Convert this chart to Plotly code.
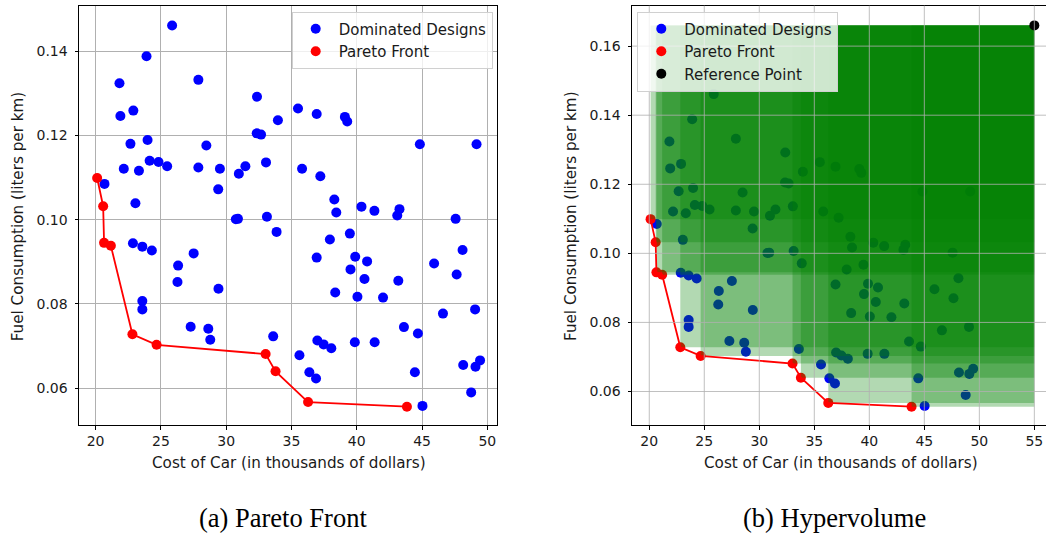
import plotly.graph_objects as go

# ---------------- data ----------------
dominated_cost = [
    25.86, 23.90, 21.83, 27.87, 32.36, 21.90, 22.89, 33.96, 32.34, 32.67,
    22.67, 23.98, 28.48, 22.16, 23.32, 24.14, 24.82, 25.48, 27.87, 29.52,
    30.97, 31.47, 33.05, 29.39, 20.68, 23.05, 30.74, 30.90, 33.12, 33.86,
    35.50, 36.93, 39.09, 39.27, 44.83, 49.17, 35.81, 37.21, 38.28, 38.43,
    40.36, 41.35, 43.27, 43.10, 47.57,
    39.47, 37.94, 36.93, 39.88, 40.79, 39.52, 40.59, 38.35, 40.05, 42.01,
    43.18, 45.92, 48.10, 47.65, 46.60, 49.06, 43.61, 44.68, 36.98, 37.46,
    38.05, 39.85, 41.37, 35.61, 36.37, 36.88, 44.45, 48.15, 49.09, 49.44,
    48.76, 45.03,
    22.86, 23.58, 24.31, 27.51, 26.32, 26.27, 29.41, 23.58, 23.58, 27.28,
    28.63, 28.78, 33.60,
]
dominated_fuel = [
    0.1461, 0.1388, 0.1324, 0.1332, 0.1292, 0.1246, 0.1259, 0.1236, 0.1205, 0.1202,
    0.1180, 0.1189, 0.1176, 0.1121, 0.1116, 0.1140, 0.1137, 0.1127, 0.1124, 0.1121,
    0.1109, 0.1127, 0.1136, 0.1072, 0.1085, 0.1039, 0.1001, 0.1002, 0.1007, 0.0971,
    0.1264, 0.1251, 0.1244, 0.1233, 0.1179, 0.1179, 0.1121, 0.1103, 0.1048, 0.1017,
    0.1031, 0.1021, 0.1025, 0.1010, 0.1002,
    0.0967, 0.0953, 0.0910, 0.0912, 0.0901, 0.0882, 0.0859, 0.0827, 0.0817, 0.0815,
    0.0855, 0.0896, 0.0928, 0.0870, 0.0777, 0.0787, 0.0745, 0.0730, 0.0713, 0.0704,
    0.0695, 0.0709, 0.0709, 0.0678, 0.0638, 0.0623, 0.0638, 0.0655, 0.0651, 0.0666,
    0.0590, 0.0558,
    0.0944, 0.0936, 0.0927, 0.0920, 0.0891, 0.0852, 0.0836, 0.0807, 0.0787, 0.0746,
    0.0741, 0.0715, 0.0723,
]
pareto_cost = [20.12, 20.58, 20.65, 21.17, 22.82, 24.67, 33.02, 33.78, 36.27, 43.84]
pareto_fuel = [0.1099, 0.1032, 0.0945, 0.0938, 0.0728, 0.0703, 0.0681, 0.0640, 0.0567, 0.0556]
reference_point = (55.0, 0.166)

x_ticks_a = [20, 25, 30, 35, 40, 45, 50]
x_ticks_b = [20, 25, 30, 35, 40, 45, 50, 55]
y_ticks_a = [0.06, 0.08, 0.10, 0.12, 0.14]
y_ticks_b = [0.06, 0.08, 0.10, 0.12, 0.14, 0.16]

x_title = "Cost of Car (in thousands of dollars)"
y_title = "Fuel Consumption (liters per km)"
captions = ["(a) Pareto Front", "(b) Hypervolume"]

# ---------------- layout helpers ----------------
W, H = 1046, 534
def fx(p):
    return p / W
def fy(p):
    return 1 - p / H

FONT = "DejaVu Sans"
GRID = "#b0b0b0"
TXT = "#1a1a1a"

fig = go.Figure()

# ---- (a) Pareto front ----
fig.add_trace(go.Scatter(x=dominated_cost, y=dominated_fuel, mode="markers",
                         marker=dict(color="blue", size=10), name="Dominated Designs",
                         xaxis="x", yaxis="y", legend="legend", legendgroup="a1"))
fig.add_trace(go.Scatter(x=pareto_cost, y=pareto_fuel, mode="lines",
                         line=dict(color="red", width=1.8), showlegend=False,
                         xaxis="x", yaxis="y", hoverinfo="skip"))
fig.add_trace(go.Scatter(x=pareto_cost, y=pareto_fuel, mode="markers",
                         marker=dict(color="red", size=10), name="Pareto Front",
                         xaxis="x", yaxis="y", legend="legend", legendgroup="a2"))

# ---- (b) Hypervolume ----
fig.add_trace(go.Scatter(x=dominated_cost, y=dominated_fuel, mode="markers",
                         marker=dict(color="blue", size=10), name="Dominated Designs",
                         xaxis="x2", yaxis="y2", legend="legend2", legendgroup="b1"))
fig.add_trace(go.Scatter(x=pareto_cost, y=pareto_fuel, mode="markers",
                         marker=dict(color="red", size=10), name="Pareto Front",
                         xaxis="x2", yaxis="y2", legend="legend2", legendgroup="b2"))
rx, ry = reference_point
for c, f in zip(pareto_cost, pareto_fuel):
    fig.add_trace(go.Scatter(x=[c, rx, rx, c, c], y=[f, f, ry, ry, f], mode="lines",
                             fill="toself", fillcolor="rgba(0,128,0,0.3)",
                             line=dict(width=0, color="rgba(0,0,0,0)"),
                             showlegend=False, hoverinfo="skip", xaxis="x2", yaxis="y2"))
fig.add_trace(go.Scatter(x=pareto_cost, y=pareto_fuel, mode="lines",
                         line=dict(color="red", width=1.8), showlegend=False,
                         xaxis="x2", yaxis="y2", hoverinfo="skip"))
fig.add_trace(go.Scatter(x=[rx], y=[ry], mode="markers",
                         marker=dict(color="black", size=10), name="Reference Point",
                         xaxis="x2", yaxis="y2", legend="legend2", legendgroup="b3"))

axis_common = dict(showline=True, linecolor="black", linewidth=1, ticks="outside",
                   ticklen=3.5, tickcolor="black", tickwidth=1,
                   tickfont=dict(family=FONT, size=14, color=TXT), zeroline=False)

ydom = [fy(425), fy(5.7)]
legend_common = dict(xanchor="left", yanchor="top",
                     bgcolor="rgba(255,255,255,0.8)", bordercolor="#d0d0d0", borderwidth=1,
                     font=dict(family=FONT, size=15, color=TXT), tracegroupgap=0,
                     itemwidth=36)
fig.update_layout(
    width=W, height=H, margin=dict(l=0, r=0, t=0, b=0),
    paper_bgcolor="white", plot_bgcolor="white",
    font=dict(family=FONT, size=14, color=TXT),
    xaxis=dict(domain=[fx(79), fx(497.3)], range=[18.73, 50.76], tickvals=x_ticks_a,
               showgrid=True, gridcolor=GRID, gridwidth=0.8, mirror=True, anchor="y",
               **axis_common),
    yaxis=dict(domain=ydom, range=[0.05126, 0.1508], tickvals=y_ticks_a, tickformat=".2f",
               showgrid=True, gridcolor=GRID, gridwidth=0.8, mirror=True, anchor="x",
               ticklabelstandoff=4, **axis_common),
    xaxis2=dict(domain=[fx(632), 1.0], range=[18.43, 56.06], tickvals=x_ticks_b,
                showgrid=False, mirror=True, anchor="y2", **axis_common),
    yaxis2=dict(domain=ydom, range=[0.0503, 0.1717], tickvals=y_ticks_b, tickformat=".2f",
                showgrid=False, mirror=False, anchor="x2", ticklabelstandoff=4,
                **axis_common),
    legend=dict(x=fx(291.7), y=fy(11.5), **legend_common),
    legend2=dict(x=fx(637.3), y=fy(11.5), **legend_common),
    showlegend=True,
)

# gridlines for panel (b), drawn above the translucent rectangles
shapes = []
for v in x_ticks_b:
    shapes.append(dict(type="line", xref="x2", yref="y2 domain", x0=v, x1=v, y0=0, y1=1,
                       line=dict(color=GRID, width=0.8), layer="above"))
for v in y_ticks_b:
    shapes.append(dict(type="line", xref="x2 domain", yref="y2", x0=0, x1=1, y0=v, y1=v,
                       line=dict(color=GRID, width=0.8), layer="above"))
fig.update_layout(shapes=shapes)

TSIZE = 15.2
ann = []
ann.append(dict(text=x_title, x=fx(288.5), y=fy(463.3), xref="paper", yref="paper",
                showarrow=False, xanchor="center", yanchor="middle",
                font=dict(family=FONT, size=TSIZE, color=TXT)))
ann.append(dict(text=x_title, x=fx(841), y=fy(463.3), xref="paper", yref="paper",
                showarrow=False, xanchor="center", yanchor="middle",
                font=dict(family=FONT, size=TSIZE, color=TXT)))
ann.append(dict(text=y_title, x=fx(18.3), y=fy(216), xref="paper", yref="paper",
                showarrow=False, xanchor="center", yanchor="middle", textangle=-90,
                font=dict(family=FONT, size=TSIZE, color=TXT)))
ann.append(dict(text=y_title, x=fx(571), y=fy(216), xref="paper", yref="paper",
                showarrow=False, xanchor="center", yanchor="middle", textangle=-90,
                font=dict(family=FONT, size=TSIZE, color=TXT)))
ann.append(dict(text=captions[0], x=fx(283), y=fy(518), xref="paper", yref="paper",
                showarrow=False, xanchor="center", yanchor="middle",
                font=dict(family="Liberation Serif", size=26.5, color="black")))
ann.append(dict(text=captions[1], x=fx(834), y=fy(518), xref="paper", yref="paper",
                showarrow=False, xanchor="center", yanchor="middle",
                font=dict(family="Liberation Serif", size=26.5, color="black")))
fig.update_layout(annotations=ann)

fig.write_html(
    "out.html",
    config={"displayModeBar": False},
    post_script="document.body.style.margin='0';document.body.style.padding='0';"
                "document.body.style.overflow='hidden';",
)
